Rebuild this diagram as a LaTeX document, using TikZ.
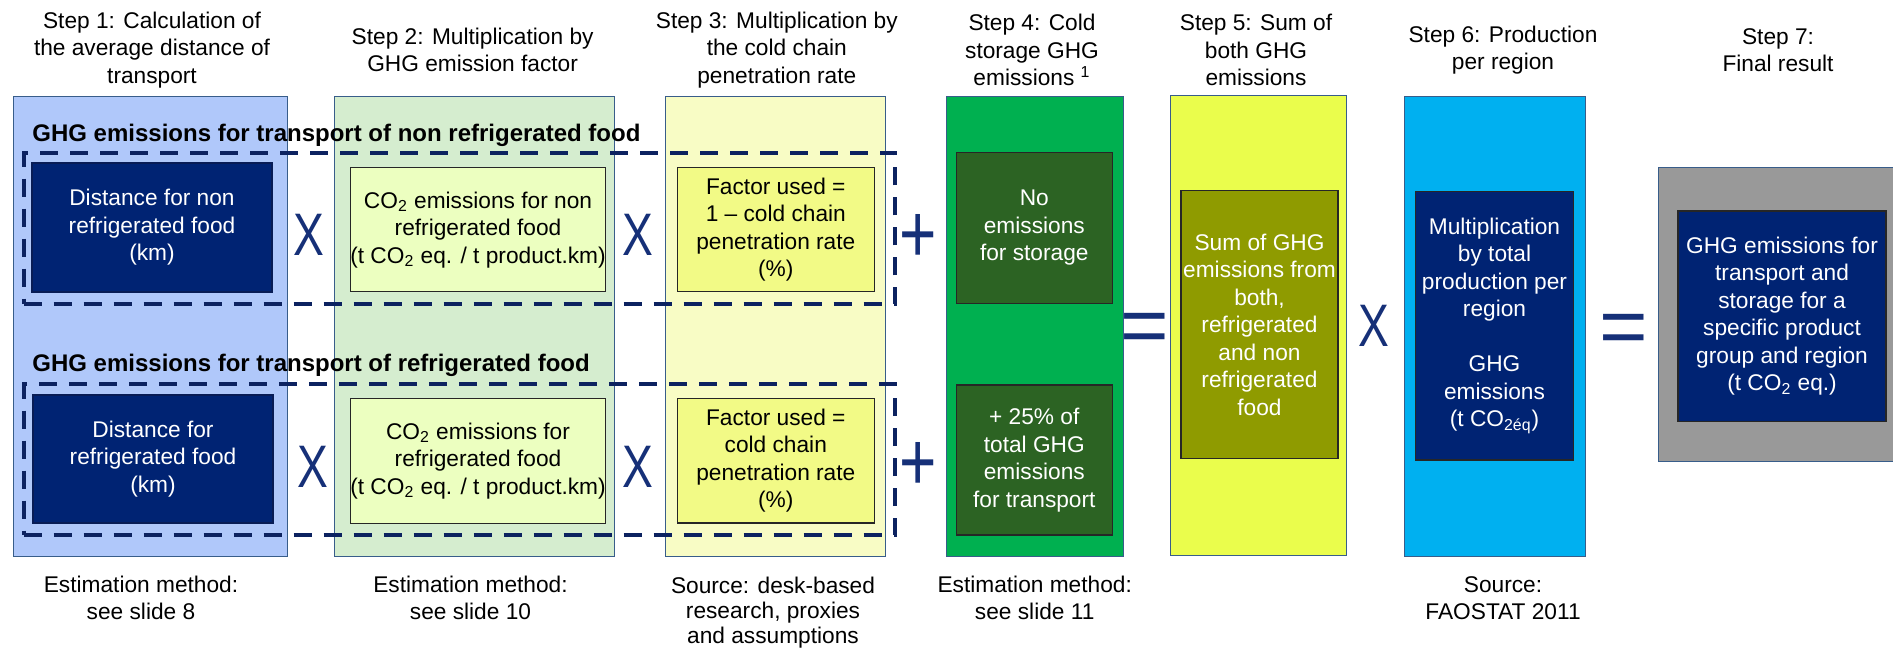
\documentclass[tikz,border=0pt]{standalone}
\usepackage{fontspec}
\setmainfont{Liberation Sans}
\usetikzlibrary{positioning}
\definecolor{stepblue}{RGB}{176,200,250}
\definecolor{stepgreen}{RGB}{213,237,207}
\definecolor{steppale}{RGB}{248,252,197}
\definecolor{stepgreenb}{RGB}{0,176,80}
\definecolor{steplime}{RGB}{234,253,76}
\definecolor{stepcyan}{RGB}{0,176,240}
\definecolor{stepgray}{RGB}{153,153,153}
\definecolor{navyfill}{RGB}{0,35,115}
\definecolor{navyline}{RGB}{8,28,85}
\definecolor{co2fill}{RGB}{236,255,192}
\definecolor{factorfill}{RGB}{242,250,134}
\definecolor{storefill}{RGB}{44,99,35}
\definecolor{olivefill}{RGB}{143,155,0}
\definecolor{opblue}{RGB}{22,48,120}
\definecolor{dashnavy}{RGB}{12,34,96}
\definecolor{edgeblue}{RGB}{56,93,138}

\begin{document}
\begin{tikzpicture}[x=0.5pt, y=-0.5pt,
    font=\fontsize{11.35}{13.75}\selectfont,
    column/.style={draw=edgeblue, line width=0.5pt, inner sep=0pt},
    box/.style={align=center, inner sep=0pt, line width=0.6pt, draw=black!85},
    navybox/.style={box, fill=navyfill, text=white},
    heading/.style={align=center, inner sep=0pt},
    note/.style={align=center, inner sep=0pt},
    rowlabel/.style={anchor=base west, inner sep=0pt, font=\fontsize{12}{14}\selectfont\bfseries},
    dashframe/.style={draw=dashnavy, line width=2pt, dash pattern=on 9pt off 6pt, inner sep=0pt},
    optimes/.style={anchor=base, inner sep=0pt, text=opblue, font=\fontsize{30}{30}\selectfont},
    opplus/.style={anchor=base, inner sep=0pt, text=opblue, font=\fontsize{32}{32}\selectfont},
    opequal/.style={anchor=base, inner sep=0pt, text=opblue, font=\fontsize{32}{32}\selectfont}]
    \useasboundingbox (0,0) rectangle (1893,648);

    % Step columns
    \node[column, fill=stepblue, minimum width=136.8pt, minimum height=230pt] (col1) at (150.5,326) {};
    \node[column, fill=stepgreen, minimum width=140pt, minimum height=230pt] (col2) at (474.5,326) {};
    \node[column, fill=steppale, minimum width=110pt, minimum height=230pt] (col3) at (775,326) {};
    \node[column, fill=stepgreenb, minimum width=88.7pt, minimum height=230pt] (col4) at (1034.7,326) {};
    \node[column, fill=steplime, minimum width=88.2pt, minimum height=230pt] (col5) at (1258.4,325) {};
    \node[column, fill=stepcyan, minimum width=90.7pt, minimum height=230.3pt] (col6) at (1495,326.3) {};
    \node[column, fill=stepgray, minimum width=118.3pt, minimum height=147pt] (col7) at (1776.5,314) {};

    % Step titles
    \node[heading] (head1) at (152,50) {Step 1: Calculation of\\the average distance of\\transport};
    \node[heading] (head2) at (472.6,50) {Step 2: Multiplication by\\GHG emission factor};
    \node[heading] (head3) at (776.8,50) {Step 3: Multiplication by\\the cold chain\\penetration rate};
    \node[heading] (head4) at (1032,50) {Step 4: Cold\\storage GHG\\emissions \textsuperscript{1}};
    \node[heading] (head5) at (1256,50) {Step 5: Sum of\\both GHG\\emissions};
    \node[heading] (head6) at (1503,50) {Step 6: Production\\per region};
    \node[heading] (head7) at (1778,50) {Step 7:\\Final result};

    % Row labels and dashed frames
    \node[rowlabel] (nonlabel) at (32,141.5) {GHG emissions for transport of non refrigerated food};
    \node[rowlabel] (reflabel) at (32,371.5) {GHG emissions for transport of refrigerated food};
    \node[dashframe, minimum width=435.7pt, minimum height=75.65pt] (nonframe) at (459.3,228.35) {};
    \node[dashframe, minimum width=435.7pt, minimum height=75.35pt] (refframe) at (459.3,459.35) {};

    % Non refrigerated row
    \node[navybox, draw=navyline, line width=1pt, minimum width=119.6pt, minimum height=64.2pt] (dist1) at (152,227.5)
        {Distance for non\\refrigerated food\\(km)};
    \node[box, fill=co2fill, minimum width=127.6pt, minimum height=62pt] (co2a) at (478,229.7)
        {CO\textsubscript{2} emissions for non\\refrigerated food\\(t CO\textsubscript{2} eq. / t product.km)};
    \node[box, fill=factorfill, minimum width=98.5pt, minimum height=62.2pt] (fac1) at (775.8,229.5)
        {Factor used =\\1 – cold chain\\penetration rate\\(\%)};
    \node[box, fill=storefill, text=white, minimum width=78pt, minimum height=75.5pt] (store1) at (1034.3,227.8)
        {No\\emissions\\for storage};

    % Refrigerated row
    \node[navybox, draw=navyline, line width=1pt, minimum width=119.6pt, minimum height=64.2pt] (dist2) at (153,459)
        {Distance for\\refrigerated food\\(km)};
    \node[box, fill=co2fill, minimum width=127.6pt, minimum height=62.5pt] (co2b) at (478,460.8)
        {CO\textsubscript{2} emissions for\\refrigerated food\\(t CO\textsubscript{2} eq. / t product.km)};
    \node[box, fill=factorfill, minimum width=98.5pt, minimum height=62.2pt] (fac2) at (775.8,460.7)
        {Factor used =\\cold chain\\penetration rate\\(\%)};
    \node[box, fill=storefill, text=white, minimum width=78pt, minimum height=75pt] (store2) at (1034.3,460)
        {+ 25\% of\\total GHG\\emissions\\for transport};

    % Steps 5 to 7
    \node[box, fill=olivefill, text=white, minimum width=78.5pt, minimum height=133.9pt] (sum) at (1259.5,324.4)
        {Sum of GHG\\emissions from\\both,\\refrigerated\\and non\\refrigerated\\food};
    \node[navybox, minimum width=79.2pt, minimum height=134.2pt] (prod) at (1494.5,325.8)
        {Multiplication\\by total\\production per\\region\\[13.75pt]GHG\\emissions\\(t CO\textsubscript{2éq})};
    \node[navybox, minimum width=104pt, minimum height=105.2pt] (result) at (1782,316.2)
        {GHG emissions for\\transport and\\storage for a\\specific product\\group and region\\(t CO\textsubscript{2} eq.)};

    % Operators
    \node[optimes] (times11) at (309,255) {\scalebox{0.77}[1]{X}};
    \node[optimes] (times12) at (638,255) {\scalebox{0.77}[1]{X}};
    \node[optimes] (times21) at (313,487) {\scalebox{0.77}[1]{X}};
    \node[optimes] (times22) at (638,487) {\scalebox{0.77}[1]{X}};
    \node[opplus] (plus1) at (917.7,262) {\scalebox{1}[1.3]{+}};
    \node[opplus] (plus2) at (917.7,490) {\scalebox{1}[1.3]{+}};
    \node[opequal] (equal1) at (1145,353) {\scalebox{1.3}[1.28]{=}};
    \node[optimes] (times3) at (1374,346) {\scalebox{0.77}[1]{X}};
    \node[opequal] (equal2) at (1624,354) {\scalebox{1.3}[1.28]{=}};

    % Sources
    \node[note, below=9.5pt of col1, xshift=-4.75pt] (note1) {Estimation method:\\see slide 8};
    \node[note, below=9.5pt of col2, xshift=-2pt] (note2) {Estimation method:\\see slide 10};
    \node[note, below=10pt of col3, xshift=-1pt, font=\fontsize{11.35}{12.6}\selectfont] (note3) {Source: desk-based\\research, proxies\\and assumptions};
    \node[note, below=9.5pt of col4] (note4) {Estimation method:\\see slide 11};
    \node[note, below=9.5pt of col6, xshift=4pt] (note6) {Source:\\FAOSTAT 2011};
\end{tikzpicture}
\end{document}
